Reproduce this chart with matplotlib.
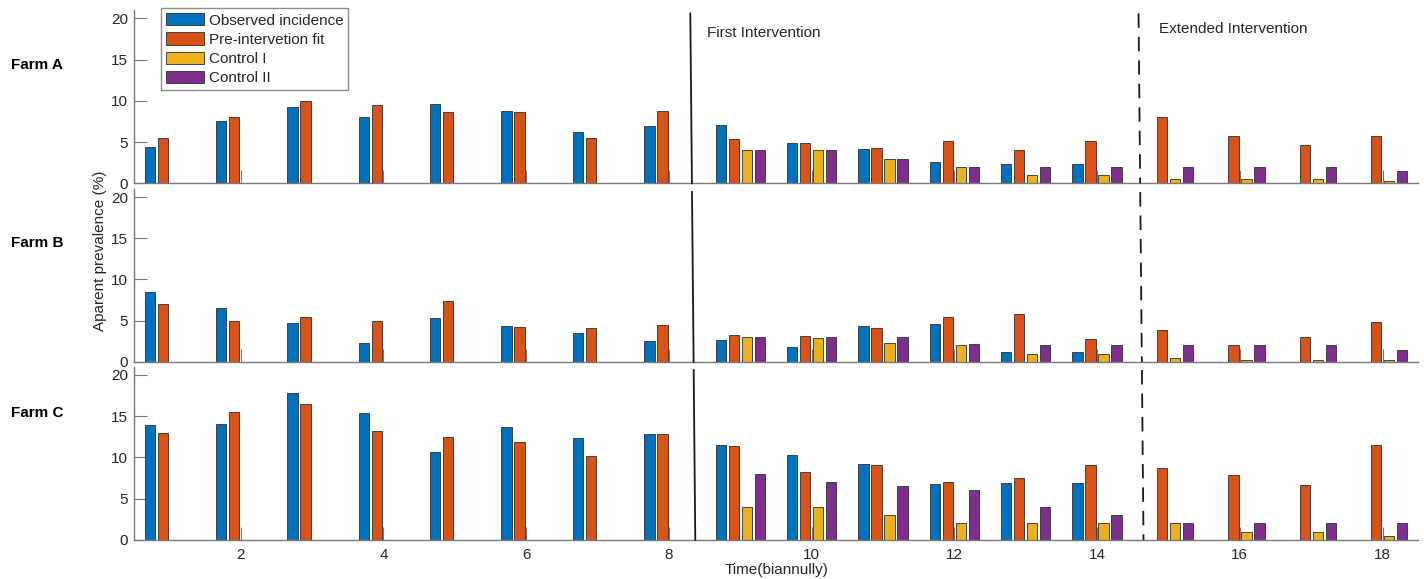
import numpy as np
import matplotlib
matplotlib.use("Agg")
import matplotlib.pyplot as plt
from matplotlib.patches import Patch

# ---- data -------------------------------------------------------------
periods = np.arange(1, 19)
series_names = ["Observed incidence", "Pre-intervetion fit", "Control I", "Control II"]
series_colors = ["#0072BD", "#D95319", "#EDB120", "#7E2F8E"]
farm_names = ["Farm A", "Farm B", "Farm C"]
x_ticks = [2, 4, 6, 8, 10, 12, 14, 16, 18]
y_ticks = [0, 5, 10, 15, 20]

nan = np.nan
farmA_observed = [4.4, 7.6, 9.3, 8.0, 9.6, 8.8, 6.2, 6.9, 7.1, 4.9, 4.2, 2.6, 2.4, 2.4, nan, nan, nan, nan]
farmA_fit = [5.5, 8.0, 10.0, 9.5, 8.7, 8.7, 5.45, 8.8, 5.4, 4.85, 4.3, 5.15, 4.05, 5.15, 8.0, 5.7, 4.7, 5.7]
farmA_control1 = [nan, nan, nan, nan, nan, nan, nan, nan, 4.0, 4.0, 3.0, 2.0, 1.0, 1.0, 0.5, 0.5, 0.5, 0.25]
farmA_control2 = [nan, nan, nan, nan, nan, nan, nan, nan, 4.0, 4.0, 2.95, 2.0, 2.0, 2.0, 2.0, 2.0, 2.0, 1.5]

farmB_observed = [8.5, 6.6, 4.7, 2.25, 5.3, 4.4, 3.55, 2.6, 2.65, 1.85, 4.4, 4.6, 1.2, 1.2, nan, nan, nan, nan]
farmB_fit = [7.0, 5.0, 5.5, 5.0, 7.4, 4.3, 4.15, 4.45, 3.25, 3.15, 4.1, 5.4, 5.8, 2.75, 3.85, 2.05, 3.05, 4.8]
farmB_control1 = [nan, nan, nan, nan, nan, nan, nan, nan, 3.0, 2.9, 2.25, 2.0, 1.0, 1.0, 0.45, 0.3, 0.3, 0.2]
farmB_control2 = [nan, nan, nan, nan, nan, nan, nan, nan, 3.0, 3.0, 3.0, 2.15, 2.0, 2.0, 2.0, 2.0, 2.0, 1.5]

farmC_observed = [13.95, 14.05, 17.8, 15.35, 10.7, 13.7, 12.4, 12.85, 11.5, 10.25, 9.2, 6.75, 6.95, 6.95, nan, nan, nan, nan]
farmC_fit = [12.95, 15.5, 16.45, 13.2, 12.5, 11.9, 10.15, 12.8, 11.35, 8.2, 9.05, 7.0, 7.55, 9.1, 8.7, 7.9, 6.7, 11.5]
farmC_control1 = [nan, nan, nan, nan, nan, nan, nan, nan, 4.0, 4.0, 3.0, 2.0, 2.0, 2.0, 2.0, 1.0, 1.0, 0.5]
farmC_control2 = [nan, nan, nan, nan, nan, nan, nan, nan, 8.0, 7.0, 6.5, 6.0, 4.0, 3.0, 2.0, 2.0, 2.0, 2.0]

farms = [
    [farmA_observed, farmA_fit, farmA_control1, farmA_control2],
    [farmB_observed, farmB_fit, farmB_control1, farmB_control2],
    [farmC_observed, farmC_fit, farmC_control1, farmC_control2],
]

# intervention boundaries (x at top of first panel, x at bottom of last panel)
first_intervention = (8.30, 8.37)
extended_intervention = (14.58, 14.65)

# ---- styling ----------------------------------------------------------
plt.rcParams["font.family"] = ["Liberation Sans", "DejaVu Sans"]
text_color = "#262626"
axis_color = "#7a7a7a"
FS = 11

fig = plt.figure(figsize=(14.24, 5.79), dpi=100)

left, width, height = 0.0938, 0.9022, 0.2992
bottoms = [0.6834, 0.3748, 0.0674]
ylim_top = 21.0

n_series = 4
group_width = n_series / (n_series + 1.5)
step = group_width / n_series
bar_w = 0.8 * step
offsets = (np.arange(n_series) - (n_series - 1) / 2) * step

axes = []
for k, (b, farm) in enumerate(zip(bottoms, farms)):
    ax = fig.add_axes([left, b, width, height])
    axes.append(ax)
    for s, vals in enumerate(farm):
        vals = np.asarray(vals, dtype=float)
        mask = ~np.isnan(vals)
        ax.bar(periods[mask] + offsets[s], vals[mask], width=bar_w,
               color=series_colors[s], edgecolor="#2e2e2e", linewidth=0.6,
               zorder=2)
    ax.set_xlim(0.5, 18.5)
    ax.set_ylim(0, ylim_top)
    ax.set_yticks(y_ticks)
    ax.set_xticks(x_ticks)
    if k < 2:
        ax.set_xticklabels([])
    for side in ("top", "right"):
        ax.spines[side].set_visible(False)
    for side in ("left", "bottom"):
        ax.spines[side].set_color(axis_color)
        ax.spines[side].set_linewidth(1.0)
    ax.tick_params(direction="in", length=9.4, width=0.8, color=axis_color,
                   labelsize=FS, labelcolor=text_color, pad=4)
    ax.tick_params(axis="x", pad=6)
    ax.patch.set_alpha(0)

# slanted intervention lines running through all three panels
total_top = bottoms[0] + height
total_bot = bottoms[2]


def x_at(frac_y, xs):
    t = (total_top - frac_y) / (total_top - total_bot)
    return xs[0] + t * (xs[1] - xs[0])


for ax, b in zip(axes, bottoms):
    ytop = 20.6
    fy_top = b + height * ytop / ylim_top
    fy_bot = b
    ax.plot([x_at(fy_top, first_intervention), x_at(fy_bot, first_intervention)],
            [ytop, 0], color="#1a1a1a", lw=1.3, zorder=3, clip_on=False)
    ax.plot([x_at(fy_top, extended_intervention), x_at(fy_bot, extended_intervention)],
            [ytop, 0], color="#1a1a1a", lw=1.3, zorder=3, clip_on=False,
            linestyle=(0, (8, 5)))

axes[0].text(8.54, 18.2, "First Intervention", fontsize=FS, color=text_color,
             ha="left", va="center")
axes[0].text(14.87, 18.7, "Extended Intervention", fontsize=FS, color=text_color,
             ha="left", va="center")

# farm labels
for name, yc in zip(farm_names, [65, 243, 413]):
    fig.text(11 / 1424, 1 - yc / 579, name, fontsize=FS, fontweight="bold",
             color="black", ha="left", va="center")

fig.text(100 / 1424, 1 - 251 / 579, "Aparent prevalence (%)", fontsize=FS,
         color=text_color, rotation=90, ha="center", va="center")
fig.text(777 / 1424, 1 - 570 / 579, "Time(biannully)", fontsize=FS,
         color=text_color, ha="center", va="center")

handles = [Patch(facecolor=c, edgecolor="#2e2e2e", linewidth=0.6) for c in series_colors]
leg = fig.legend(handles, series_names, loc="upper left",
                 bbox_to_anchor=(161 / 1424, 1 - 8.3 / 579),
                 fontsize=FS, frameon=True, fancybox=False, framealpha=1,
                 edgecolor="#8c8c8c", handlelength=2.5, handleheight=0.85,
                 handletextpad=0.3, labelspacing=0.32, borderpad=0.32,
                 borderaxespad=0)
leg.get_frame().set_linewidth(1.0)
for t in leg.get_texts():
    t.set_color(text_color)

fig.savefig("out.png", dpi=100)
